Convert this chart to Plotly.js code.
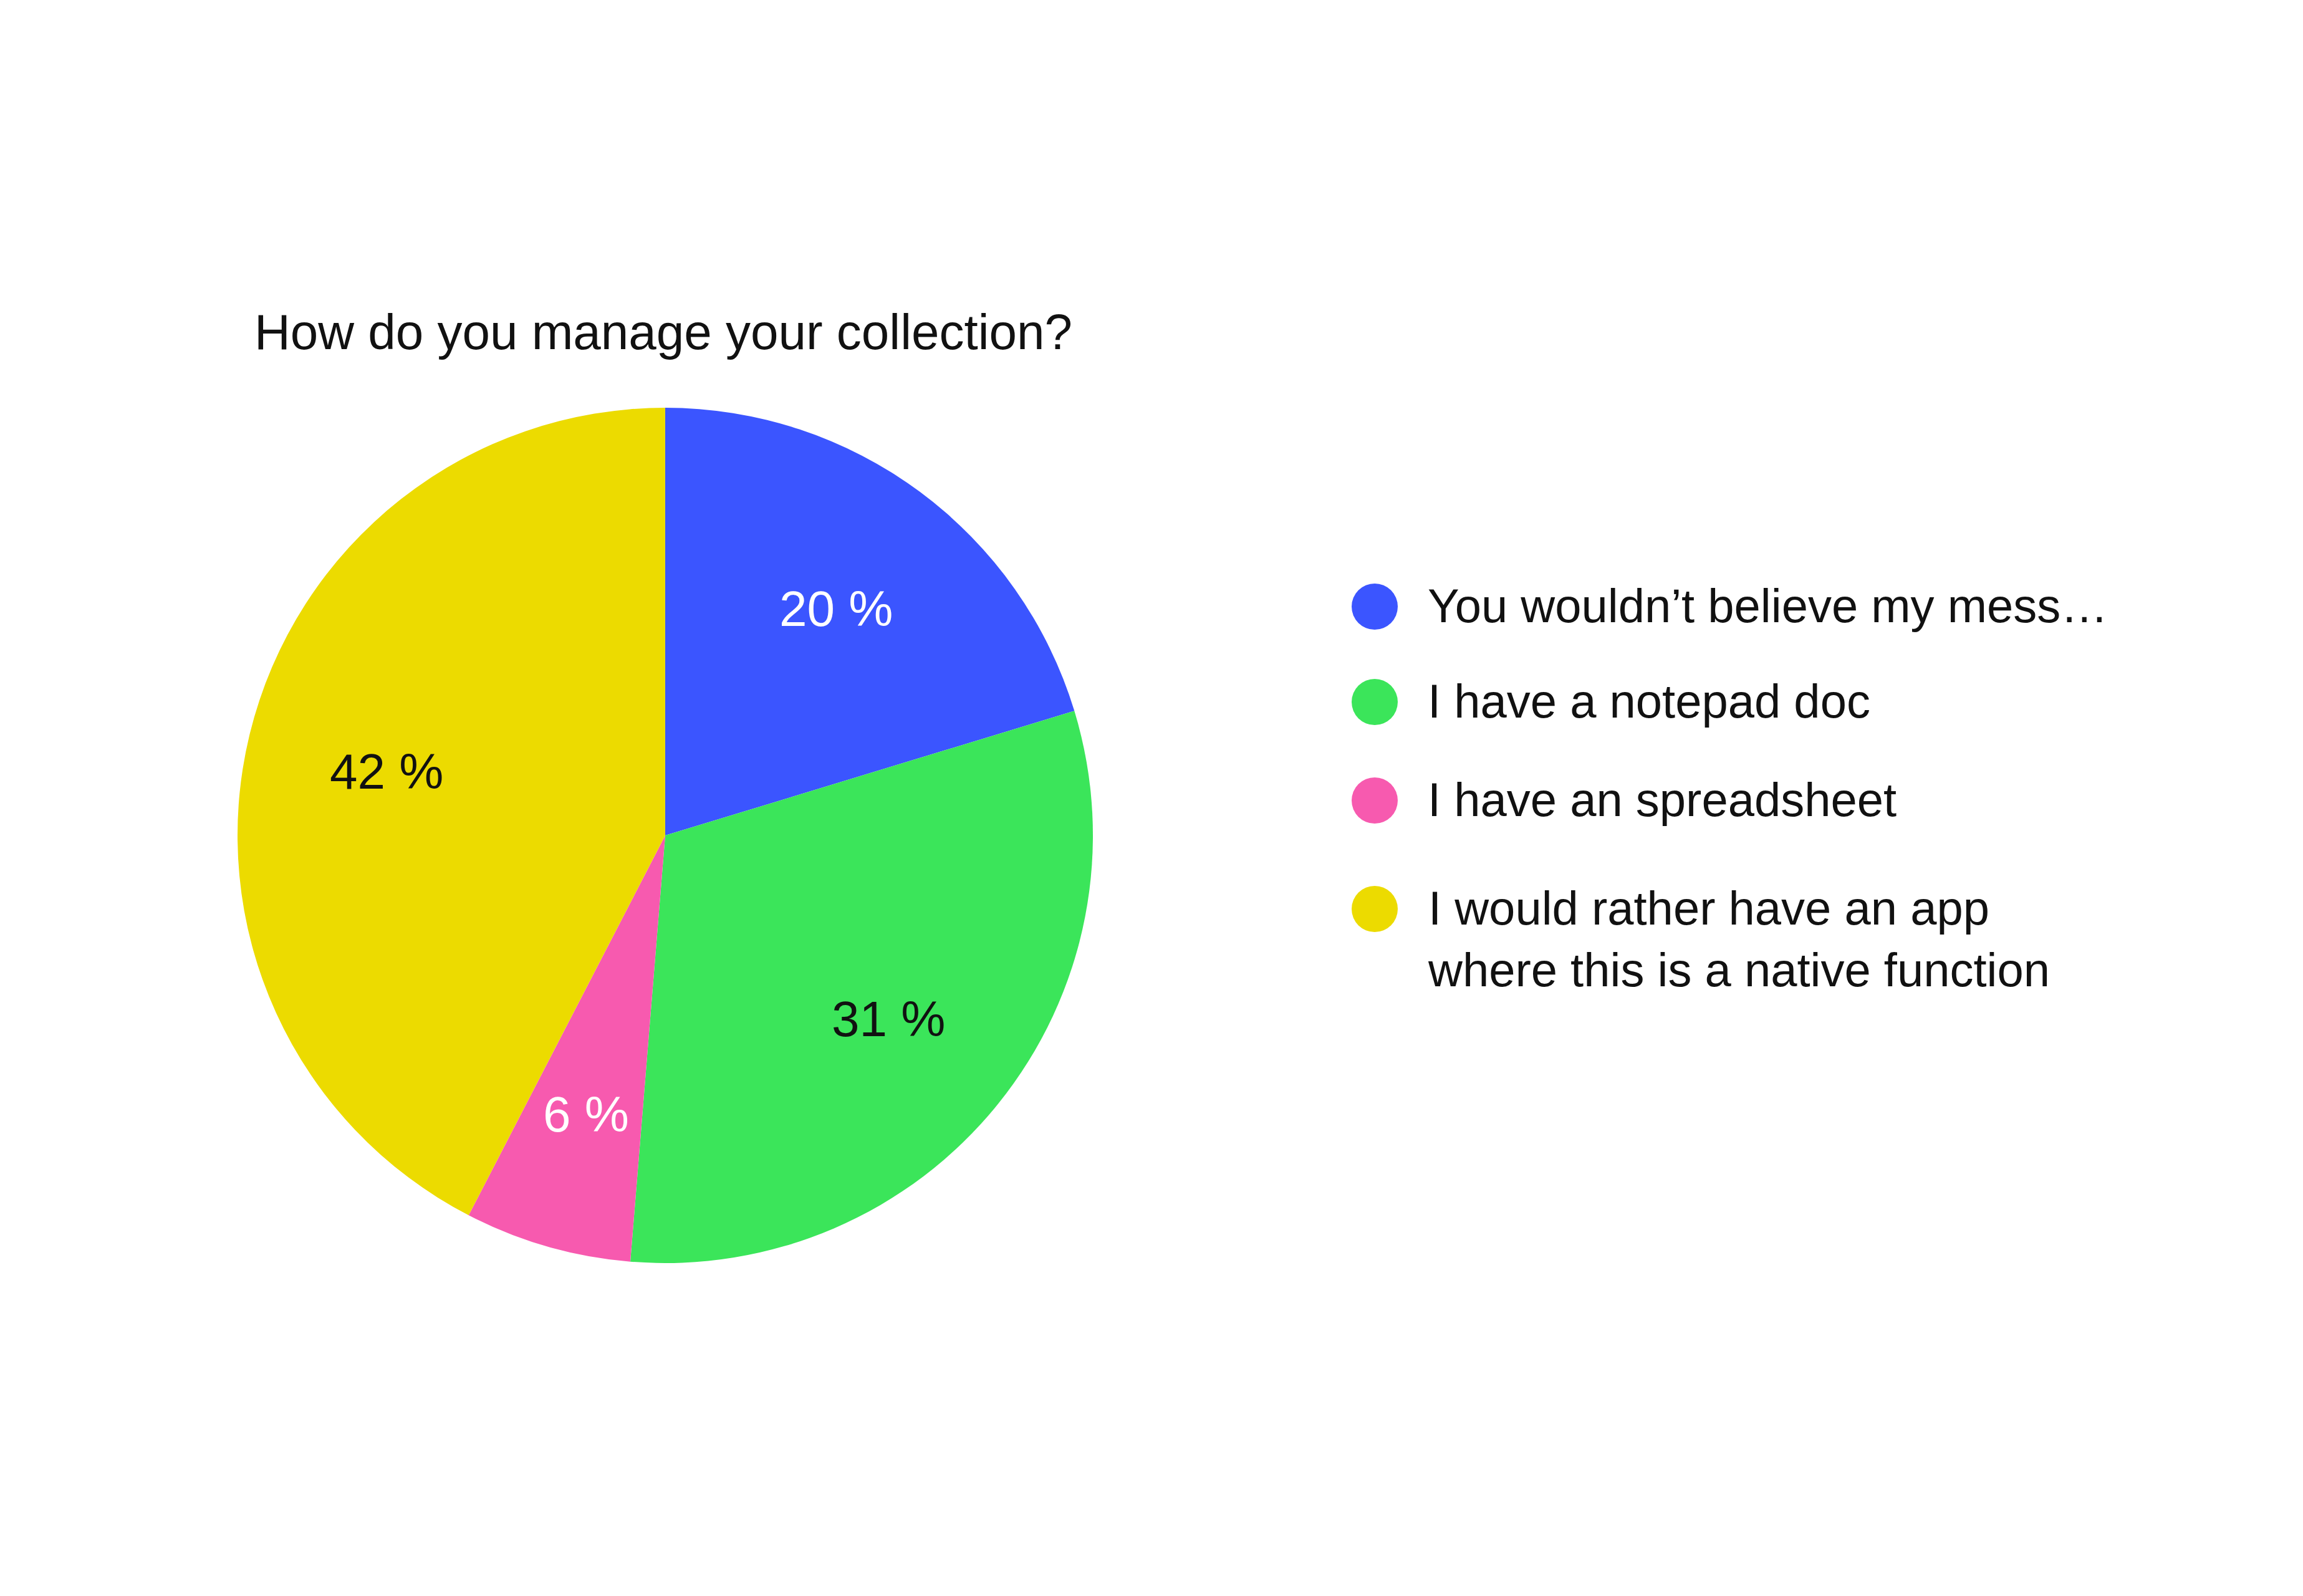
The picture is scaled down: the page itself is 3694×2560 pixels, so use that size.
<!DOCTYPE html>
<html>
<head>
<meta charset="utf-8">
<script src="https://cdn.plot.ly/plotly-3.0.1.min.js"></script>
<style>html,body{margin:0;padding:0;background:#fff;}#chart{width:3694px;height:2560px;}</style>
</head>
<body>
<div id="chart"></div>
<script>
// Data
const labels = [
  "You wouldn’t believe my mess…",
  "I have a notepad doc",
  "I have an spreadsheet",
  "I would rather have an app<br>where this is a native function"
];
const values = [20.3, 31.0, 6.3, 42.4];
const colors = ["#3B55FF", "#3BE55A", "#F75AAF", "#ECDB00"];
const textColors = ["#FFFFFF", "#111111", "#FFFFFF", "#111111"];
const chartTitle = "How do you manage your collection?";

// Layout settings
const W = 3694, H = 2560;
const FONT = '"Liberation Sans", Arial, Helvetica, sans-serif';
const FS = 76;
const cx = 1067, cy = 1340, R = 686;
const labelRadiusFrac = 0.67;
const labelYOffset = 6;
const legendDotX = 2205, legendTextX = 2288, dotR = 37;
const legendRowY = [973, 1126, 1284, 1458];

const shapes = [];
const annotations = [];
labels.forEach((lab, i) => {
  const y = legendRowY[i];
  shapes.push({
    type: 'circle', xref: 'paper', yref: 'paper',
    x0: (legendDotX - dotR) / W, x1: (legendDotX + dotR) / W,
    y0: 1 - (y + dotR) / H, y1: 1 - (y - dotR) / H,
    fillcolor: colors[i], line: {width: 0}
  });
  annotations.push({
    xref: 'paper', yref: 'paper',
    x: legendTextX / W, y: 1 - (y - 46) / H,
    xanchor: 'left', yanchor: 'top', align: 'left',
    text: lab, showarrow: false,
    font: {family: FONT, size: FS, color: '#111111'}
  });
});

// Slice labels placed at each slice's mid angle (clockwise from 12 o'clock)
const total = values.reduce((a, b) => a + b, 0);
let cum = 0;
values.forEach((v, i) => {
  const mid = (cum + v / 2) / total * 2 * Math.PI;
  cum += v;
  const px = cx + labelRadiusFrac * R * Math.sin(mid);
  const py = cy - labelRadiusFrac * R * Math.cos(mid) + labelYOffset;
  annotations.push({
    xref: 'paper', yref: 'paper',
    x: px / W, y: 1 - py / H,
    xanchor: 'center', yanchor: 'middle',
    text: Math.round(v / total * 100) + ' %', showarrow: false,
    font: {family: FONT, size: 80, color: textColors[i]}
  });
});

const trace = {
  type: 'pie',
  labels: labels,
  values: values,
  sort: false,
  direction: 'clockwise',
  rotation: 0,
  marker: {colors: colors, line: {width: 0}},
  textinfo: 'none',
  hoverinfo: 'label+percent',
  showlegend: false,
  domain: {x: [(cx - R) / W, (cx + R) / W], y: [1 - (cy + R) / H, 1 - (cy - R) / H]}
};

const layout = {
  width: W, height: H,
  margin: {l: 0, r: 0, t: 0, b: 0},
  paper_bgcolor: '#FFFFFF',
  showlegend: false,
  title: {
    text: chartTitle,
    x: 408 / W, xanchor: 'left', xref: 'paper',
    y: 1 - 532 / H, yanchor: 'middle', yref: 'paper',
    font: {family: FONT, size: 80, color: '#111111'}
  },
  shapes: shapes,
  annotations: annotations
};

Plotly.newPlot('chart', [trace], layout, {displayModeBar: false, staticPlot: true});
</script>
</body>
</html>
